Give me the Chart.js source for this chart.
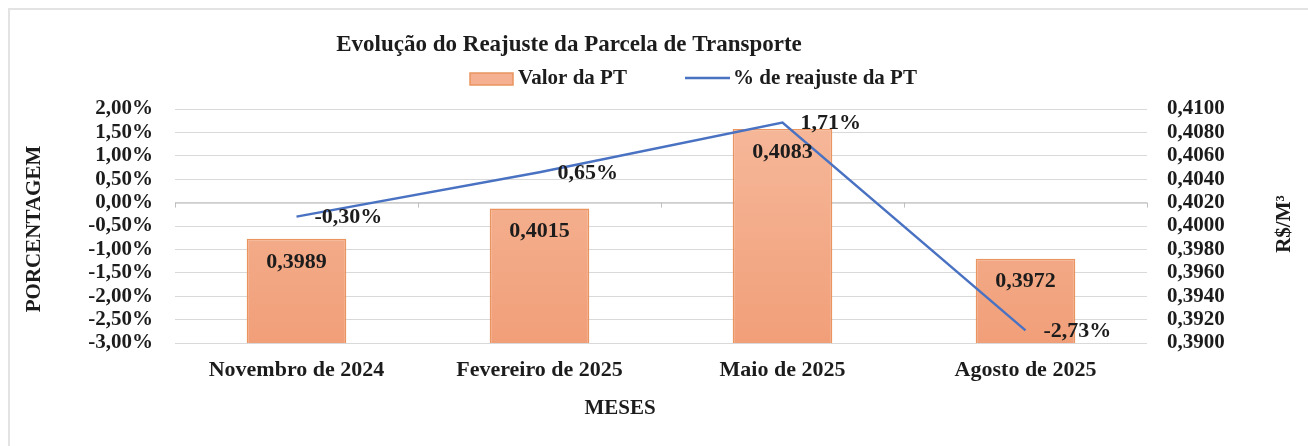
<!DOCTYPE html>
<html>
<head>
<meta charset="utf-8">
<script src="https://cdn.jsdelivr.net/npm/chart.js@4/dist/chart.umd.min.js"></script>
<style>
  body { margin: 0; background: #fff; }
  #wrap { width: 1308px; height: 446px; }
</style>
</head>
<body>
<div id="wrap"><canvas id="chart" width="1308" height="446"></canvas></div>
<script>
// data
var meses = ['Novembro de 2024', 'Fevereiro de 2025', 'Maio de 2025', 'Agosto de 2025'];
var valorPT = [0.3989, 0.4015, 0.4083, 0.3972];
var reajustePct = [-0.30, 0.65, 1.71, -2.73];

var FONT = '"Liberation Serif", "Times New Roman", serif';
var TXT = '#1c1c1c';

function virgula(n, d) { return n.toFixed(d).replace('.', ','); }

// light frame around the whole figure
var framePlugin = {
  id: 'frame',
  beforeDraw: function(chart) {
    var c = chart.ctx;
    c.save();
    c.strokeStyle = '#e3e3e3';
    c.lineWidth = 2;
    c.strokeRect(9, 9, 1320, 460);
    c.restore();
  }
};

// title + legend, drawn by hand so they sit where the original has them
var headerPlugin = {
  id: 'header',
  afterDraw: function(chart) {
    var c = chart.ctx;
    c.save();
    c.fillStyle = TXT;
    c.textBaseline = 'middle';
    c.font = 'bold 23px ' + FONT;
    c.textAlign = 'center';
    c.fillText('Evolução do Reajuste da Parcela de Transporte', 569, 45);

    c.font = 'bold 21px ' + FONT;
    c.textAlign = 'left';
    c.fillStyle = '#f4b090';
    c.fillRect(470, 73, 43, 12);
    c.strokeStyle = '#e9955f';
    c.lineWidth = 1.5;
    c.strokeRect(470, 73, 43, 12);
    c.fillStyle = TXT;
    c.fillText('Valor da PT', 518, 79);

    c.strokeStyle = '#4a72c2';
    c.lineWidth = 2.5;
    c.beginPath();
    c.moveTo(685, 78);
    c.lineTo(730, 78);
    c.stroke();
    c.fillText('% de reajuste da PT', 733, 79);
    c.restore();
  }
};

// axis titles
var axisTitlePlugin = {
  id: 'axisTitles',
  afterDraw: function(chart) {
    var c = chart.ctx;
    c.save();
    c.fillStyle = TXT;
    c.font = 'bold 21px ' + FONT;
    c.textAlign = 'center';
    c.textBaseline = 'middle';
    c.fillText('MESES', 620, 409);

    c.translate(35, 229);
    c.rotate(-Math.PI / 2);
    c.fillText('PORCENTAGEM', 0, 0);
    c.restore();

    c.save();
    c.fillStyle = TXT;
    c.font = 'bold 21px ' + FONT;
    c.textAlign = 'center';
    c.textBaseline = 'middle';
    c.translate(1285, 224);
    c.rotate(-Math.PI / 2);
    c.fillText('R$/M³', 0, 0);
    c.restore();
  }
};

// little tick marks hanging off the 0% line between categories
var zeroTicksPlugin = {
  id: 'zeroTicks',
  beforeDatasetsDraw: function(chart) {
    var a = chart.chartArea, y0 = chart.scales.y.getPixelForValue(0);
    var c = chart.ctx, n = meses.length;
    c.save();
    c.strokeStyle = '#bfbfbf';
    c.lineWidth = 1;
    c.beginPath();
    c.moveTo(a.left, y0 + 0.5);
    c.lineTo(a.right, y0 + 0.5);
    for (var i = 0; i <= n; i++) {
      var x = Math.round(a.left + i * (a.right - a.left) / n) + 0.5;
      c.moveTo(x, y0);
      c.lineTo(x, y0 + 5);
    }
    c.stroke();
    c.restore();
  }
};

// value labels
var labelPlugin = {
  id: 'valueLabels',
  afterDatasetsDraw: function(chart) {
    var c = chart.ctx;
    c.save();
    c.fillStyle = TXT;
    c.font = 'bold 22px ' + FONT;
    c.textBaseline = 'middle';

    c.textAlign = 'center';
    chart.getDatasetMeta(0).data.forEach(function(bar, i) {
      c.fillText(virgula(valorPT[i], 4), bar.x, bar.y + 23);
    });

    c.textAlign = 'left';
    chart.getDatasetMeta(1).data.forEach(function(pt, i) {
      c.fillText(virgula(reajustePct[i], 2) + '%', pt.x + 18, pt.y + 1);
    });
    c.restore();
  }
};

var tickFont = { family: FONT, size: 21, weight: 'bold' };

var ctx = document.getElementById('chart').getContext('2d');

var myChart = new Chart(ctx, {
  data: {
    labels: meses,
    datasets: [{
      type: 'bar',
      label: 'Valor da PT',
      data: valorPT,
      yAxisID: 'y1',
      order: 2,
      backgroundColor: function(context) {
        var area = context.chart.chartArea;
        if (!area) return '#f4b090';
        var g = context.chart.ctx.createLinearGradient(0, area.top, 0, area.bottom);
        g.addColorStop(0, '#f6b99b');
        g.addColorStop(1, '#f19f79');
        return g;
      },
      borderColor: '#ea9460',
      borderWidth: 1.5,
      borderSkipped: 'bottom',
      barPercentage: 0.41,
      categoryPercentage: 1
    }, {
      type: 'line',
      label: '% de reajuste da PT',
      data: reajustePct,
      yAxisID: 'y',
      order: 1,
      borderColor: '#4a72c2',
      borderWidth: 2.5,
      pointRadius: 0,
      tension: 0,
      fill: false
    }]
  },
  options: {
    responsive: false,
    animation: false,
    layout: { padding: { top: 109, left: 0, right: 0, bottom: 0 } },
    plugins: {
      legend: { display: false },
      title: { display: false },
      tooltip: { enabled: false }
    },
    scales: {
      x: {
        grid: { display: false, drawTicks: false },
        border: { display: false },
        ticks: { padding: 14, color: TXT, font: { family: FONT, size: 22, weight: 'bold' }, maxRotation: 0 },
        afterFit: function(s) { s.height = 103; }
      },
      y: {
        position: 'left',
        min: -3,
        max: 2,
        ticks: {
          stepSize: 0.5,
          autoSkip: false,
          padding: 22,
          color: TXT,
          font: tickFont,
          callback: function(v) { return virgula(v, 2) + '%'; }
        },
        grid: { color: '#d9d9d9', lineWidth: 1, drawTicks: false },
        border: { display: false },
        afterFit: function(s) { s.width = 175; }
      },
      y1: {
        position: 'right',
        min: 0.39,
        max: 0.41,
        ticks: {
          stepSize: 0.002,
          autoSkip: false,
          padding: 20,
          color: TXT,
          font: tickFont,
          callback: function(v) { return virgula(v, 4); }
        },
        grid: { display: false, drawTicks: false },
        border: { display: false },
        afterFit: function(s) { s.width = 161; }
      }
    }
  },
  plugins: [framePlugin, zeroTicksPlugin, labelPlugin, headerPlugin, axisTitlePlugin]
});
</script>
</body>
</html>
